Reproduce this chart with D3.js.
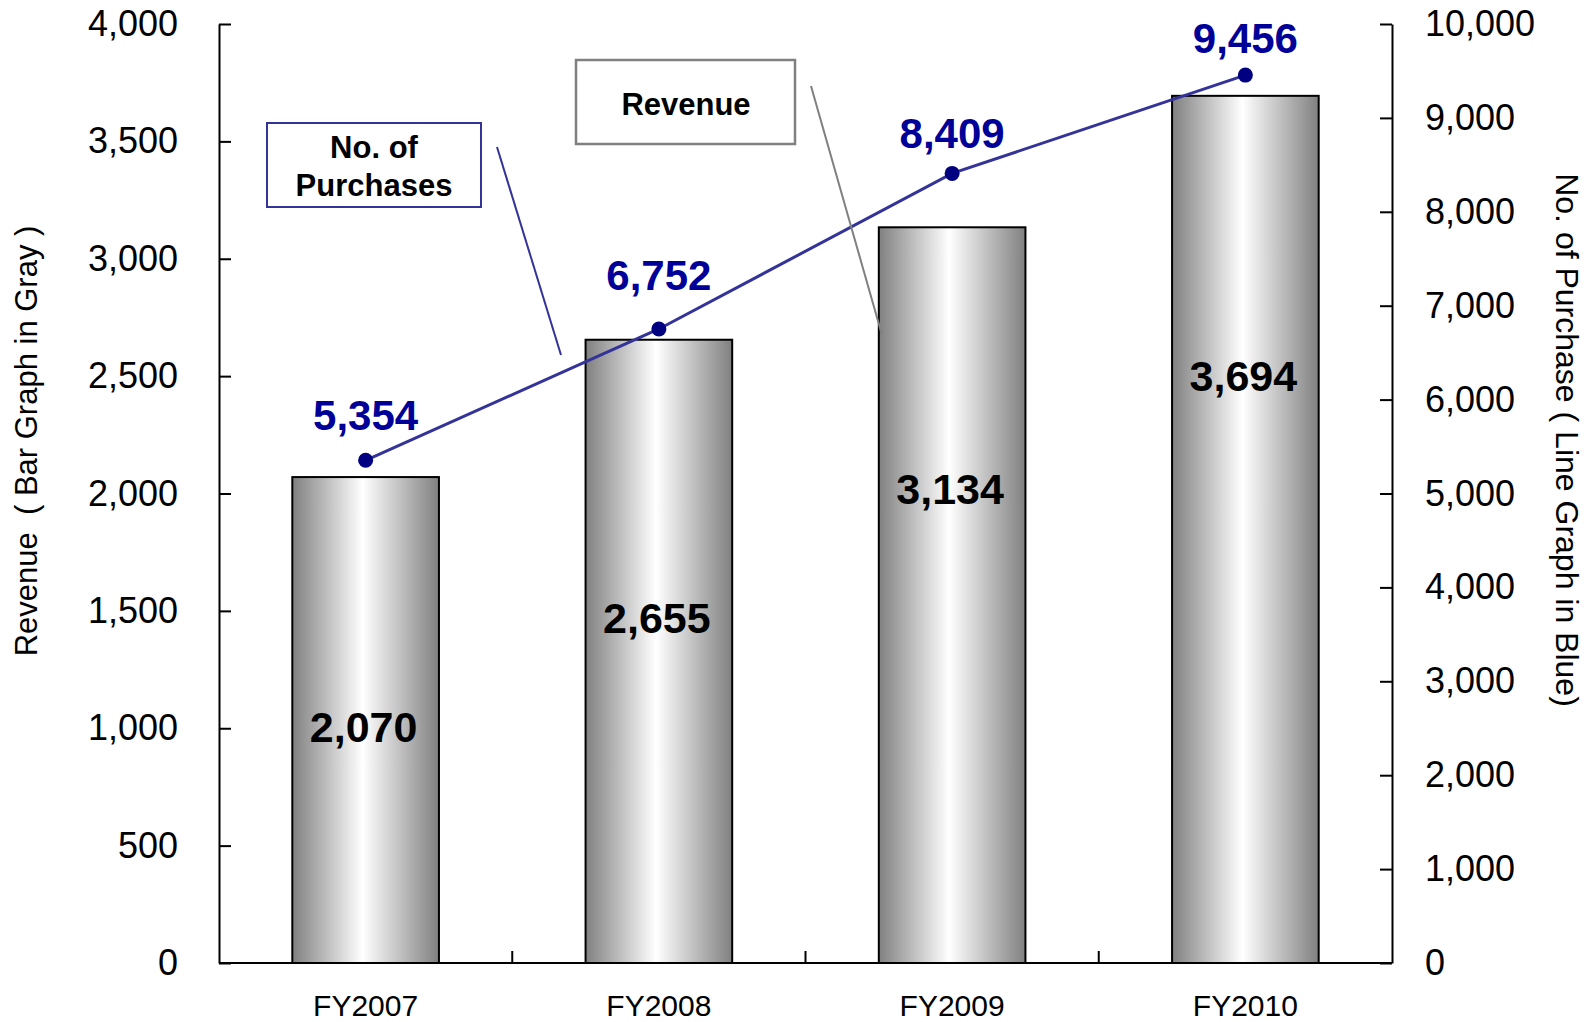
<!DOCTYPE html>
<html>
<head>
<meta charset="utf-8">
<script src="https://cdn.jsdelivr.net/npm/d3@7"></script>
<style>
  html, body { margin: 0; padding: 0; background: #fff; }
  svg { display: block; font-family: "Liberation Sans", Arial, sans-serif; }
</style>
</head>
<body>
<div id="chart"></div>
<script>
// data
const years = ["FY2007", "FY2008", "FY2009", "FY2010"];
const revenue = [2070, 2655, 3134, 3694];
const purchases = [5354, 6752, 8409, 9456];
const revenueTicks = [0, 500, 1000, 1500, 2000, 2500, 3000, 3500, 4000];
const purchaseTicks = [0, 1000, 2000, 3000, 4000, 5000, 6000, 7000, 8000, 9000, 10000];

(function () {
  const W = 1590, H = 1022;
  const plot = { left: 219, right: 1392, top: 24, bottom: 963 };

  // labels were placed by hand in the original: offsets from the mark they belong to
  const barLabelDrop = [265, 293, 277, 295];
  const ptLabelRise = [30, 39, 25, 22];

  const svg = d3.select("#chart").append("svg")
    .attr("width", W)
    .attr("height", H);

  const defs = svg.append("defs");
  const grad = defs.append("linearGradient")
    .attr("id", "barGrad")
    .attr("x1", "0%").attr("x2", "100%")
    .attr("y1", "0%").attr("y2", "0%");
  grad.append("stop").attr("offset", "0%").attr("stop-color", "#808080");
  grad.append("stop").attr("offset", "48%").attr("stop-color", "#ffffff");
  grad.append("stop").attr("offset", "100%").attr("stop-color", "#808080");

  const x = d3.scaleBand()
    .domain(years)
    .range([plot.left, plot.right])
    .paddingInner(0.5)
    .paddingOuter(0.25);

  const yLeft = d3.scaleLinear().domain([0, 4000]).range([plot.bottom, plot.top]);
  const yRight = d3.scaleLinear().domain([0, 10000]).range([plot.bottom, plot.top]);

  const fmt = d3.format(",");
  const cx = i => x(years[i]) + x.bandwidth() / 2;

  // bars
  svg.selectAll(".bar")
    .data(revenue)
    .join("rect")
    .attr("class", "bar")
    .attr("x", (d, i) => x(years[i]))
    .attr("y", d => yLeft(d))
    .attr("width", x.bandwidth())
    .attr("height", d => plot.bottom - yLeft(d))
    .attr("fill", "url(#barGrad)")
    .attr("stroke", "#000")
    .attr("stroke-width", 2);

  svg.selectAll(".bar-label")
    .data(revenue)
    .join("text")
    .attr("class", "bar-label")
    .attr("x", (d, i) => cx(i) - 2)
    .attr("y", (d, i) => yLeft(d) + barLabelDrop[i])
    .attr("text-anchor", "middle")
    .style("font-size", "43px")
    .style("font-weight", "bold")
    .style("fill", "#000")
    .text(d => fmt(d));

  // left axis
  const gl = svg.append("g")
    .attr("transform", `translate(${plot.left},0)`)
    .call(d3.axisLeft(yLeft).tickValues(revenueTicks).tickFormat(fmt)
      .tickSizeInner(-12).tickSizeOuter(0).tickPadding(41));
  gl.select(".domain").attr("stroke-width", 2);
  gl.selectAll(".tick line").attr("stroke-width", 2);
  gl.selectAll(".tick text").style("font-size", "36px").attr("fill", "#000")
    .attr("font-family", null);

  // right axis
  const gr = svg.append("g")
    .attr("transform", `translate(${plot.right},0)`)
    .call(d3.axisRight(yRight).tickValues(purchaseTicks).tickFormat(fmt)
      .tickSizeInner(-12).tickSizeOuter(0).tickPadding(33));
  gr.select(".domain").attr("stroke-width", 2);
  gr.selectAll(".tick line").attr("stroke-width", 2);
  gr.selectAll(".tick text").style("font-size", "36px").attr("fill", "#000")
    .attr("font-family", null);

  // bottom axis: baseline, ticks on category boundaries, labels
  svg.append("line")
    .attr("x1", plot.left).attr("x2", plot.right)
    .attr("y1", plot.bottom).attr("y2", plot.bottom)
    .attr("stroke", "#000").attr("stroke-width", 2);

  const boundaries = years.slice(1).map(c => x(c) - x.step() * x.paddingInner() / 2);
  svg.selectAll(".xtick")
    .data(boundaries)
    .join("line")
    .attr("class", "xtick")
    .attr("x1", d => d).attr("x2", d => d)
    .attr("y1", plot.bottom).attr("y2", plot.bottom - 12)
    .attr("stroke", "#000").attr("stroke-width", 2);

  svg.selectAll(".xlabel")
    .data(years)
    .join("text")
    .attr("class", "xlabel")
    .attr("x", d => x(d) + x.bandwidth() / 2)
    .attr("y", 1016)
    .attr("text-anchor", "middle")
    .style("font-size", "30px")
    .text(d => d);

  // line
  const line = d3.line()
    .x((d, i) => cx(i))
    .y(d => yRight(d));

  svg.append("path")
    .datum(purchases)
    .attr("fill", "none")
    .attr("stroke", "#333399")
    .attr("stroke-width", 3)
    .attr("d", line);

  svg.selectAll(".pt")
    .data(purchases)
    .join("circle")
    .attr("class", "pt")
    .attr("cx", (d, i) => cx(i))
    .attr("cy", d => yRight(d))
    .attr("r", 7.5)
    .attr("fill", "#000080");

  svg.selectAll(".pt-label")
    .data(purchases)
    .join("text")
    .attr("class", "pt-label")
    .attr("x", (d, i) => cx(i))
    .attr("y", (d, i) => yRight(d) - ptLabelRise[i])
    .attr("text-anchor", "middle")
    .style("font-size", "42px")
    .style("font-weight", "bold")
    .style("fill", "#000099")
    .text(d => fmt(d));

  // axis titles
  svg.append("text")
    .attr("transform", "translate(37,441) rotate(-90)")
    .attr("text-anchor", "middle")
    .style("font-size", "31px")
    .style("white-space", "pre")
    .text("Revenue  ( Bar Graph in Gray )");

  svg.append("text")
    .attr("transform", "translate(1556,440) rotate(90)")
    .attr("text-anchor", "middle")
    .style("font-size", "32px")
    .text("No. of Purchase ( Line Graph in Blue)");

  // callouts
  const c1 = svg.append("g");
  c1.append("line")
    .attr("x1", 497).attr("y1", 147).attr("x2", 561).attr("y2", 355)
    .attr("stroke", "#333399").attr("stroke-width", 2);
  c1.append("rect")
    .attr("x", 267).attr("y", 123).attr("width", 214).attr("height", 84)
    .attr("fill", "#fff").attr("stroke", "#333399").attr("stroke-width", 2);
  c1.append("text")
    .attr("x", 374).attr("y", 158)
    .attr("text-anchor", "middle")
    .style("font-size", "31px").style("font-weight", "bold")
    .text("No. of");
  c1.append("text")
    .attr("x", 374).attr("y", 196)
    .attr("text-anchor", "middle")
    .style("font-size", "31px").style("font-weight", "bold")
    .text("Purchases");

  const c2 = svg.append("g");
  c2.append("line")
    .attr("x1", 811).attr("y1", 86).attr("x2", 882).attr("y2", 335)
    .attr("stroke", "#808080").attr("stroke-width", 2);
  c2.append("rect")
    .attr("x", 576).attr("y", 60).attr("width", 219).attr("height", 84)
    .attr("fill", "#fff").attr("stroke", "#808080").attr("stroke-width", 2.5);
  c2.append("text")
    .attr("x", 686).attr("y", 115)
    .attr("text-anchor", "middle")
    .style("font-size", "31px").style("font-weight", "bold")
    .text("Revenue");
})();
</script>
</body>
</html>
